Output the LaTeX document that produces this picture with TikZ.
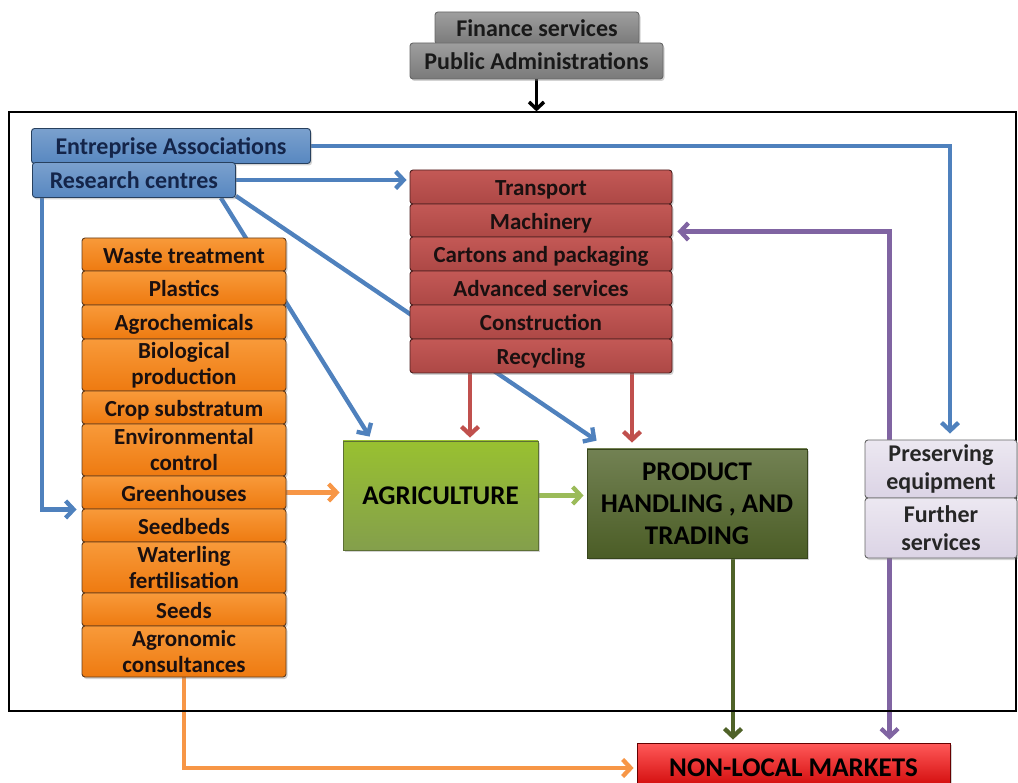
\documentclass[tikz,border=0pt]{standalone}
\usepackage{fontspec}
\setmainfont{Carlito}
\usetikzlibrary{arrows.meta,shadows,calc}
\pgfdeclarelayer{bg}
\pgfsetlayers{bg,main}
\definecolor{cblue}{HTML}{4F81BD}
\definecolor{cred}{HTML}{C0504D}
\definecolor{cpurple}{HTML}{8064A2}
\definecolor{clgreen}{HTML}{9BBB59}
\definecolor{corange}{HTML}{F79646}
\definecolor{cdgreen}{HTML}{4F6228}
\definecolor{txtblue}{HTML}{14254A}
\definecolor{txtdark}{HTML}{1A1010}
\definecolor{orA}{HTML}{F89A3A}
\definecolor{orB}{HTML}{EE7A10}
\tikzset{
  box/.style={draw, line width=0.9pt, rounded corners=3pt, align=center, inner sep=0.5pt,
    font=\fontsize{23}{26}\selectfont\bfseries,
    drop shadow={opacity=0.35, shadow xshift=1.5pt, shadow yshift=-2pt}},
  oneline/.style={text height=22.5pt, text depth=5pt},
  graybox/.style={box, oneline, draw=black!60, top color=black!38, bottom color=black!52, text=black!90, font=\fontsize{24}{26}\selectfont\bfseries},
  bluebox/.style={box, oneline, draw=cblue!50!black, top color=cblue!75, bottom color=cblue!95, text=txtblue, minimum height=35pt, font=\fontsize{24}{26}\selectfont\bfseries},
  redbox/.style={box, oneline, draw=cred!40!black, top color=cred!95!white, bottom color=cred!90!black, text=txtdark, minimum width=262pt},
  orbox/.style={box, draw=corange!40!black, top color=orA, bottom color=orB, text=txtdark, minimum width=204pt},
  lilbox/.style={box, draw=black!60, top color=cpurple!15, bottom color=cpurple!28, text=black!85, minimum width=152pt},
  bigbox/.style={draw, line width=0.8pt, align=center, font=\fontsize{27}{32}\selectfont\bfseries,
    drop shadow={opacity=0.35, shadow xshift=2pt, shadow yshift=-2pt}},
  conn/.style={line width=4.3pt, -{Straight Barb[length=8pt,width=17pt]}},
}
\begin{document}
\begin{tikzpicture}[x=1pt,y=-1pt]
\useasboundingbox (0,0) rectangle (1018,783);
% frame
\node[draw, line width=1.2pt, minimum width=1007pt, minimum height=599pt, inner sep=0pt] (frame) at (512.5,411.5) {};
% top gray
\node[graybox, minimum width=204pt, minimum height=32pt] (fin) at (537,28) {Finance services};
\node[graybox, minimum width=253pt, minimum height=36pt] (pa) at (536.5,61) {Public Administrations};
% blue
\node[bluebox, minimum width=279pt] (ea) at (171,146) {Entreprise Associations};
\node[bluebox, minimum width=203pt, anchor=west] (rc) at (32,180) {Research centres};
% red stack
\node[redbox, minimum height=34pt] (tr) at (541,187) {Transport};
\node[redbox, minimum height=33pt] (mach) at (541,220.5) {Machinery};
\node[redbox, minimum height=34pt] (cart) at (541,254) {Cartons and packaging};
\node[redbox, minimum height=34pt] (adv) at (541,288) {Advanced services};
\node[redbox, minimum height=34pt] (cons) at (541,322) {Construction};
\node[redbox, minimum height=34pt] (rec) at (541,356) {Recycling};
% orange stack
\node[orbox, oneline, minimum height=33pt] (waste) at (184,254.5) {Waste treatment};
\node[orbox, oneline, minimum height=34pt] (plas) at (184,288) {Plastics};
\node[orbox, oneline, minimum height=34pt] (agro) at (184,322) {Agrochemicals};
\node[orbox, minimum height=52pt] (bio) at (184,365) {Biological\\production};
\node[orbox, oneline, minimum height=33pt] (crop) at (184,407.5) {Crop substratum};
\node[orbox, minimum height=52pt] (env) at (184,450) {Environmental\\control};
\node[orbox, oneline, minimum height=33pt] (green) at (184,492.5) {Greenhouses};
\node[orbox, oneline, minimum height=33pt] (seedb) at (184,525.5) {Seedbeds};
\node[orbox, minimum height=51pt] (wat) at (184,567.5) {Waterling\\fertilisation};
\node[orbox, oneline, minimum height=33pt] (seeds) at (184,609.5) {Seeds};
\node[orbox, minimum height=51pt] (agr) at (184,651.5) {Agronomic\\consultances};
% main boxes
\node[bigbox, draw=clgreen!60!black, top color=clgreen!60!lime!90!black, bottom color=clgreen!85!black, minimum width=195pt, minimum height=109pt] (agri) at (440.5,495.5) {AGRICULTURE};
\node[bigbox, draw=cdgreen!70!black, top color=cdgreen!80!white, bottom color=cdgreen!95!black, text=black, minimum width=220pt, minimum height=109pt] (prod) at (697,503.5) {PRODUCT\\HANDLING , AND\\TRADING};
% lilac
\node[lilbox, minimum height=58pt, font=\fontsize{24}{28}\selectfont\bfseries] (pres) at (941,469) {Preserving\\equipment};
\node[lilbox, minimum height=60pt, font=\fontsize{24}{28}\selectfont\bfseries] (fur) at (941,528) {Further\\services};
% markets
\node[bigbox, draw=red!40!black, top color=red!65!white, bottom color=red!80!black, minimum width=313pt, minimum height=50pt] (mkt) at (793.5,768) {NON-LOCAL MARKETS};

\begin{pgfonlayer}{bg}
% black
\draw[line width=3.5pt, -{Straight Barb[length=7pt,width=15pt]}] (pa.south) -- (pa.south |- frame.north);
% blue
\draw[conn, cblue] (ea.east) -| ([xshift=9pt,yshift=6pt]pres.north);
\draw[conn, cblue] (rc.east) -- ([xshift=-3pt]rc.east -| tr.west);
\draw[conn, cblue] ([xshift=-15pt]rc.south east) -- ([xshift=27pt,yshift=4pt]agri.north west);
\draw[conn, cblue] ([yshift=2pt]rc.south east) -- ([xshift=10pt,yshift=8pt]prod.north west);
\draw[conn, cblue] ([xshift=10pt]rc.south west) |- ([xshift=-5pt]green.south west);
% red
\coordinate (r1) at ([xshift=-71pt]rec.south);
\coordinate (r2) at ([xshift=91pt]rec.south);
\draw[conn, cred] (r1) -- ([yshift=3pt]r1 |- agri.north);
\draw[conn, cred] (r2) -- ([yshift=6pt]r2 |- prod.north);
% purple
\coordinate (p1) at ([xshift=25pt]pres.north west);
\coordinate (p2) at ([xshift=25pt]fur.south west);
\draw[conn, cpurple] (p1) |- ([xshift=5pt,yshift=-11pt]mach.east);
\draw[conn, cpurple] (p2) -- ([yshift=3pt]p2 |- mkt.north);
% greens and orange
\draw[conn, corange] (green.east) -- ([xshift=-3pt]green.east -| agri.west);
\draw[conn, clgreen] (agri.east) -- ([xshift=-3pt]agri.east -| prod.west);
\coordinate (g1) at ([xshift=36pt]prod.south);
\draw[conn, cdgreen] (g1) -- ([yshift=3pt]g1 |- mkt.north);
\draw[conn, corange] (agr.south) |- ([xshift=-3pt]mkt.west);
\end{pgfonlayer}
\end{tikzpicture}
\end{document}
